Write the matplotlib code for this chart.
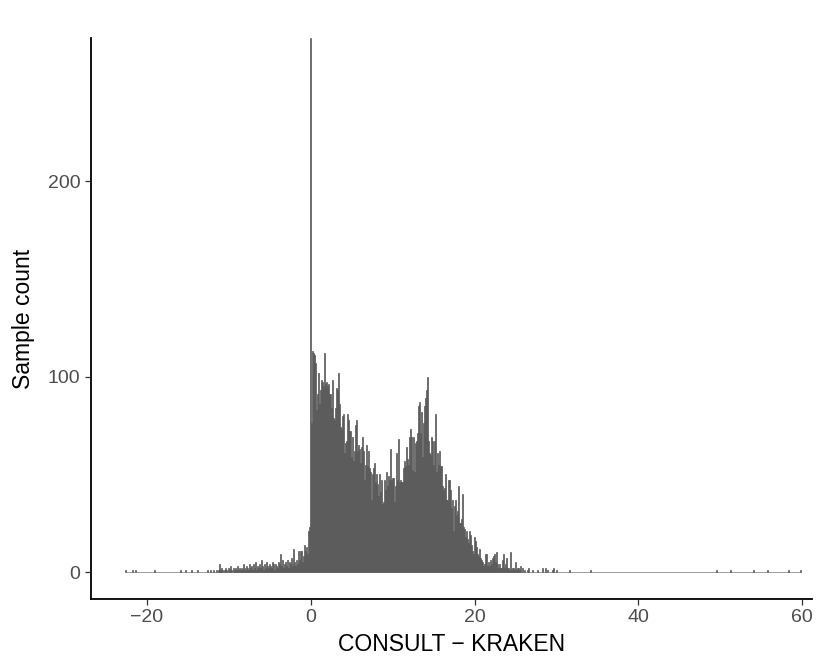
import numpy as np
import matplotlib
matplotlib.use("Agg")
import matplotlib.pyplot as plt

plt.rcParams['font.family'] = ['Liberation Sans', 'DejaVu Sans']

# histogram bins (width, about one pixel)
bin_width = 0.122
core_start = -13.42   # centre of the first bin of the dense part

core_counts = [
    0, 0, 0, 0, 0, 0, 0, 1, 0, 0,
    1, 0, 0, 1, 0, 0, 1, 0, 1, 4,
    1, 2, 1, 0, 1, 2, 1, 0, 2, 1,
    3, 1, 0, 2, 1, 2, 1, 3, 1, 2,
    1, 2, 1, 4, 2, 1, 3, 2, 1, 4,
    2, 3, 1, 4, 2, 5, 1, 3, 2, 4,
    2, 6, 3, 1, 4, 2, 5, 3, 2, 4,
    3, 2, 5, 4, 1, 4, 3, 2, 5, 4,
    9, 3, 6, 2, 4, 5, 3, 6, 2, 5,
    4, 7, 3, 12, 5, 3, 6, 4, 11, 6,
    11, 11, 5, 8, 14, 11, 13, 9, 21, 23,
    273, 76, 113, 112, 111, 107, 83, 91, 102, 86,
    93, 98, 97, 95, 112, 96, 97, 95, 96, 91,
    91, 84, 98, 79, 78, 84, 94, 93, 102, 86,
    74, 73, 80, 81, 61, 66, 67, 81, 78, 72,
    72, 59, 69, 57, 62, 75, 78, 62, 65, 63,
    56, 64, 69, 62, 47, 55, 65, 54, 62, 53,
    51, 37, 50, 53, 56, 46, 50, 45, 39, 50,
    41, 47, 35, 36, 47, 42, 51, 44, 49, 47,
    63, 47, 48, 48, 36, 44, 61, 47, 68, 46,
    47, 46, 46, 53, 57, 54, 64, 58, 55, 69,
    73, 69, 52, 69, 51, 66, 67, 71, 85, 87,
    71, 82, 59, 76, 85, 89, 93, 100, 67, 61,
    60, 69, 67, 55, 67, 81, 51, 61, 55, 62,
    54, 54, 44, 42, 43, 50, 37, 37, 47, 47,
    42, 33, 37, 21, 34, 37, 29, 31, 44, 25,
    25, 27, 40, 23, 22, 18, 21, 17, 15, 21,
    19, 14, 11, 9, 18, 16, 13, 9, 8, 12,
    7, 6, 5, 3, 4, 9, 9, 3, 5, 3,
    6, 4, 7, 8, 9, 5, 10, 4, 2, 4,
    2, 2, 6, 9, 2, 4, 7, 2, 2, 1,
    10, 1, 2, 2, 1, 5, 1, 2, 2, 1,
    3, 0, 2, 0, 1,
]

# isolated bins out in the tails
sparse_x = [-22.59, -21.73, -21.37, -19.05, -15.87, -15.26, -14.53, -13.80,
            26.50, 26.62, 27.11, 27.72, 28.33, 28.69, 28.94, 29.55, 29.67,
            30.04, 31.62, 34.19, 49.57, 51.28, 54.09, 55.80, 58.36, 59.83]
sparse_counts = [1, 1, 1, 1, 1, 1, 1, 1,
                 1, 2, 1, 1, 2, 2, 1, 1, 2,
                 1, 1, 1, 1, 1, 1, 1, 1, 1]

xticks = [-20, 0, 20, 40, 60]
yticks = [0, 100, 200]

# put everything on one bin grid
kmin = int(round(min(sparse_x) / bin_width))
kmax = int(round(max(sparse_x) / bin_width))
centers = np.arange(kmin, kmax + 1) * bin_width
counts = np.zeros(len(centers))
k0 = int(round(core_start / bin_width))
for i, c in enumerate(core_counts):
    counts[k0 + i - kmin] = c
for x, c in zip(sparse_x, sparse_counts):
    counts[int(round(x / bin_width)) - kmin] = c

fig = plt.figure(figsize=(8.23, 6.62), dpi=100)
# panel: x from 90.8 to 812 px, y from 38 to 599 px
ax = fig.add_axes([90.8 / 823, 63 / 662, (812 - 90.8) / 823, 561 / 662])

ax.bar(centers, counts, width=bin_width, color="#595959",
       edgecolor="#595959", linewidth=0.5, clip_on=False)

ax.set_xlim(-26.85, 61.2)
ax.set_ylim(-13.8, 273.2)
ax.set_xticks(xticks)
ax.set_yticks(yticks)

for s in ["top", "right"]:
    ax.spines[s].set_visible(False)
for s in ["left", "bottom"]:
    ax.spines[s].set_linewidth(1.3)
    ax.spines[s].set_color("black")

ax.tick_params(axis="both", length=4.5, width=0.9, color="#333333",
               labelsize=14, labelcolor="#4D4D4D", pad=3)

ax.set_xlabel("CONSULT \u2212 KRAKEN", fontsize=16.5, labelpad=5)
ax.set_ylabel("Sample count", fontsize=16.5, labelpad=9)

fig.savefig("out.png", dpi=100)
